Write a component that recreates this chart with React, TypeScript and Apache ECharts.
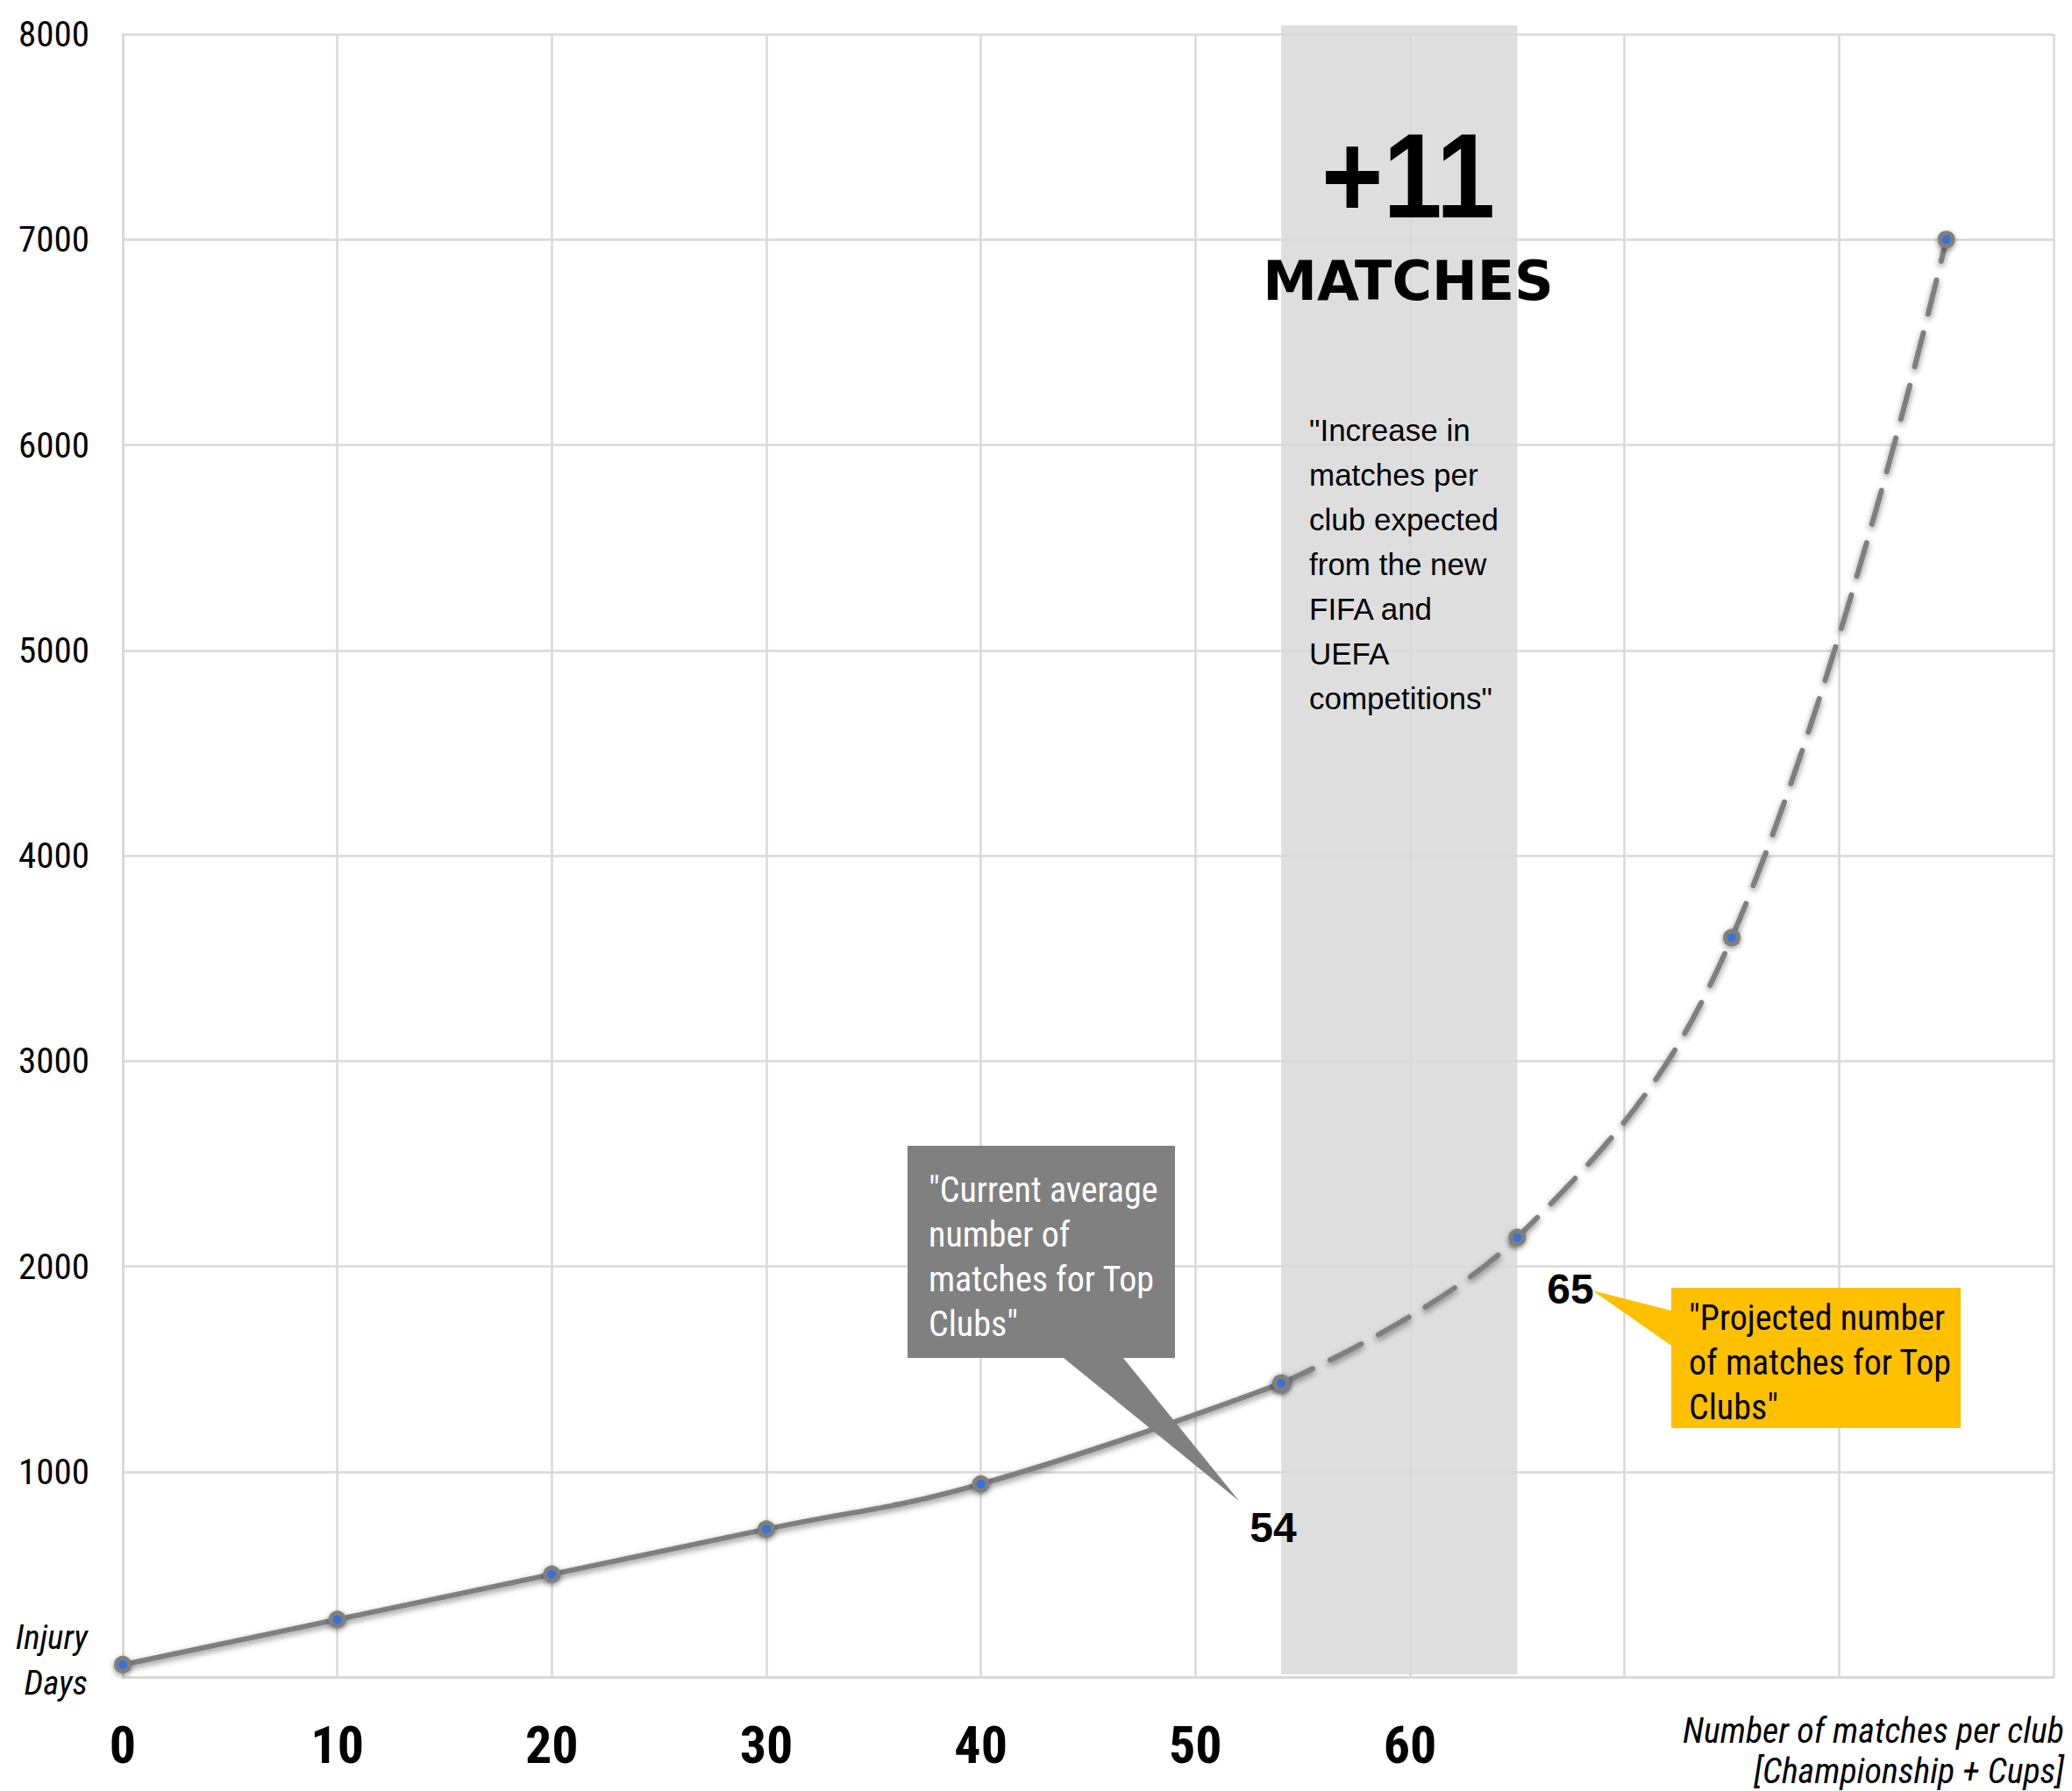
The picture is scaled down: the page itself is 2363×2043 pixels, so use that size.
import React, { useEffect, useRef } from "react";
import * as echarts from "echarts";

// ---- data ----
const matches = [0, 10, 20, 30, 40, 54, 65, 75, 85];
const injuryDays = [60, 280, 500, 720, 940, 1430, 2140, 3600, 7000];
const currentIndex = 5; // 54 matches: end of solid line, start of projection
const bandRange = [54, 65]; // +11 matches
const xTicksShown = [0, 10, 20, 30, 40, 50, 60];

const NARROW = "'Liberation Sans Narrow', 'Arial Narrow', 'Roboto Condensed', sans-serif";
const SANS = "'Liberation Sans', Arial, Helvetica, sans-serif";
const GRID = "#d9d9d9";
const LINE = "#7f7f7f";
const DOT = "#3b6fd6";

export default function App() {
  const ref = useRef<HTMLDivElement>(null);

  useEffect(() => {
    if (!ref.current) return;
    const chart = echarts.init(ref.current, null, { renderer: "svg" });

    const solid = matches.slice(0, currentIndex + 1).map((m, i) => [m, injuryDays[i]]);
    const dashed = matches.slice(currentIndex).map((m, i) => [m, injuryDays[i + currentIndex]]);

    const lineCommon = {
      type: "line",
      symbol: "circle",
      symbolSize: 15,
      itemStyle: { color: DOT, borderColor: LINE, borderWidth: 5, shadowBlur: 6, shadowColor: "rgba(0,0,0,0.45)", shadowOffsetY: 2 },
      z: 3,
      silent: true,
    };

    chart.setOption({
      animation: false,
      backgroundColor: "#ffffff",
      grid: { left: 140, right: 21, top: 39, bottom: 130, containLabel: false },
      xAxis: {
        type: "value",
        min: 0,
        max: 90,
        interval: 10,
        axisLine: { show: true, lineStyle: { color: GRID, width: 3 } },
        axisTick: { show: false },
        splitLine: { show: true, lineStyle: { color: GRID, width: 2.5 } },
        axisLabel: {
          formatter: (v: number) => (xTicksShown.indexOf(v) >= 0 ? String(v) : ""),
          fontSize: 60,
          fontWeight: "bold",
          fontFamily: NARROW,
          color: "#000",
          margin: 47,
        },
      },
      yAxis: {
        type: "value",
        min: 0,
        max: 8000,
        interval: 1000,
        axisLine: { show: true, lineStyle: { color: GRID, width: 3 } },
        axisTick: { show: false },
        splitLine: { show: true, lineStyle: { color: GRID, width: 2.5 } },
        axisLabel: {
          formatter: (v: number) => (v === 0 ? "" : String(v)),
          fontSize: 41,
          fontFamily: NARROW,
          color: "#000",
          margin: 38,
        },
      },
      series: [
        {
          type: "custom",
          data: [bandRange],
          clip: false,
          z: -1,
          silent: true,
          encode: { x: [0, 1] },
          renderItem: (params: any, api: any) => {
            const cs = params.coordSys;
            const a = api.coord([api.value(0), 0]);
            const b = api.coord([api.value(1), 0]);
            return {
              type: "rect",
              shape: { x: a[0], y: cs.y - 10, width: b[0] - a[0], height: cs.height + 7 },
              style: { fill: "#dedede" },
            };
          },
        },
        {
          ...lineCommon,
          data: solid,
          smooth: 0.45,
          lineStyle: { color: LINE, width: 6, shadowBlur: 7, shadowColor: "rgba(0,0,0,0.45)", shadowOffsetY: 3 },
        },
        {
          ...lineCommon,
          data: dashed,
          smooth: 0.4,
          lineStyle: { color: LINE, width: 6, type: [40, 22], cap: "round", shadowBlur: 7, shadowColor: "rgba(0,0,0,0.45)", shadowOffsetY: 3 },
        },
      ],
      graphic: [
        {
          type: "text",
          x: 1606,
          y: 200,
          scaleX: 0.88,
          z: 100,
          style: { text: "+11", font: `bold 137px ${SANS}`, fill: "#000", textAlign: "center", textVerticalAlign: "middle" },
        },
        {
          type: "text",
          x: 1606,
          y: 320,
          z: 100,
          style: { text: "MATCHES", font: "bold 62px 'DejaVu Sans', sans-serif", fill: "#000", textAlign: "center", textVerticalAlign: "middle" },
        },
        {
          type: "text",
          x: 1493,
          y: 465,
          z: 100,
          style: {
            text: '"Increase in\nmatches per\nclub expected\nfrom the new\nFIFA and\nUEFA\ncompetitions"',
            font: `35px ${SANS}`,
            lineHeight: 51,
            fill: "#000",
            textAlign: "left",
            textVerticalAlign: "top",
          },
        },
        {
          type: "polygon",
          z: 100,
          shape: {
            points: [
              [1035, 1307], [1340, 1307], [1340, 1549], [1281, 1549], [1413, 1712], [1213, 1549], [1035, 1549],
            ],
          },
          style: { fill: "#808080" },
        },
        {
          type: "text",
          x: 1059,
          y: 1332,
          z: 101,
          style: {
            text: '"Current average\nnumber of\nmatches for Top\nClubs"',
            font: `40px ${NARROW}`,
            lineHeight: 51,
            fill: "#ffffff",
            textAlign: "left",
            textVerticalAlign: "top",
          },
        },
        {
          type: "text",
          x: 1452,
          y: 1742,
          z: 100,
          style: { text: "54", font: `bold 48px ${SANS}`, fill: "#000", textAlign: "center", textVerticalAlign: "middle" },
        },
        {
          type: "polygon",
          z: 100,
          shape: {
            points: [
              [1906, 1469], [2236, 1469], [2236, 1629], [1906, 1629], [1906, 1535], [1816, 1472], [1906, 1495],
            ],
          },
          style: { fill: "#ffc000" },
        },
        {
          type: "text",
          x: 1926,
          y: 1478,
          z: 101,
          style: {
            text: '"Projected number\nof matches for Top\nClubs"',
            font: `40px ${NARROW}`,
            lineHeight: 51,
            fill: "#000",
            textAlign: "left",
            textVerticalAlign: "top",
          },
        },
        {
          type: "text",
          x: 1791,
          y: 1470,
          z: 100,
          style: { text: "65", font: `bold 48px ${SANS}`, fill: "#000", textAlign: "center", textVerticalAlign: "middle" },
        },
        {
          type: "text",
          x: 100,
          y: 1842,
          z: 100,
          style: {
            text: "Injury\nDays",
            font: `italic 39px ${NARROW}`,
            lineHeight: 52,
            fill: "#000",
            textAlign: "right",
            textVerticalAlign: "top",
          },
        },
        {
          type: "text",
          x: 2354,
          y: 1951,
          z: 100,
          style: {
            text: "Number of matches per club\n[Championship + Cups]",
            font: `italic 40px ${NARROW}`,
            lineHeight: 46,
            fill: "#000",
            textAlign: "right",
            textVerticalAlign: "top",
          },
        },
      ],
    });

    return () => chart.dispose();
  }, []);

  return (
    <div
      ref={ref}
      style={{ position: "fixed", left: 0, top: 0, width: 2363, height: 2043, background: "#fff" }}
    />
  );
}
